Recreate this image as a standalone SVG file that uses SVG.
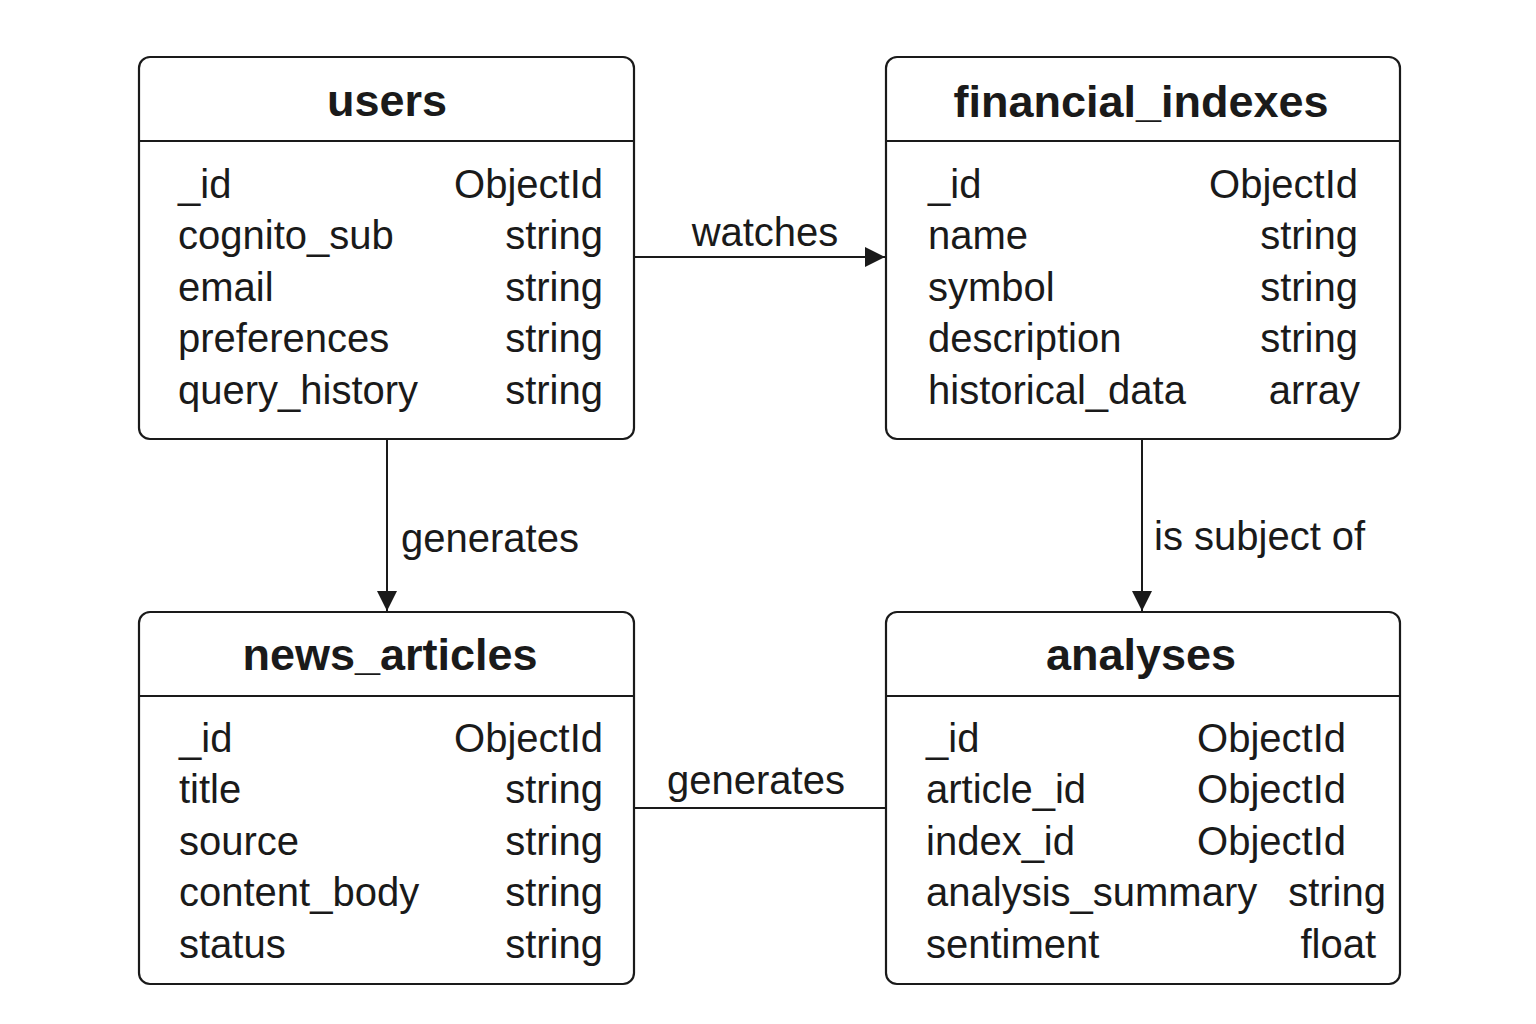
<svg xmlns="http://www.w3.org/2000/svg" width="1536" height="1024" viewBox="0 0 1536 1024">
<style>
.box{fill:#fff;stroke:#1a1a1a;stroke-width:2.2}
.sep{stroke:#1a1a1a;stroke-width:2}
.title{font-family:"Liberation Sans",Arial,sans-serif;font-weight:bold;font-size:45px;fill:#1a1a1a;text-anchor:middle}
.f{font-family:"Liberation Sans",Arial,sans-serif;font-size:40px;fill:#1a1a1a}
.t{font-family:"Liberation Sans",Arial,sans-serif;font-size:40px;fill:#1a1a1a;text-anchor:end}
.lbl{font-family:"Liberation Sans",Arial,sans-serif;font-size:40px;fill:#1a1a1a}
.conn{stroke:#1a1a1a;stroke-width:2;fill:none}
</style>
<defs>
<marker id="arr" viewBox="0 0 20 20" refX="20" refY="10" markerWidth="20" markerHeight="20" markerUnits="userSpaceOnUse" orient="auto">
<path d="M0,0 L20,10 L0,20 Z" fill="#1a1a1a"/>
</marker>
</defs>
<rect width="1536" height="1024" fill="#fff"/>

<g id="connectors">
<line class="conn" x1="634" y1="257" x2="885" y2="257" marker-end="url(#arr)"/>
<text class="lbl" x="765" y="246" text-anchor="middle">watches</text>
<line class="conn" x1="387" y1="440" x2="387" y2="611" marker-end="url(#arr)"/>
<text class="lbl" x="401" y="552">generates</text>
<line class="conn" x1="1142" y1="440" x2="1142" y2="611" marker-end="url(#arr)"/>
<text class="lbl" x="1154" y="550">is subject of</text>
<line class="conn" x1="634" y1="808" x2="886" y2="808"/>
<text class="lbl" x="756" y="794" text-anchor="middle">generates</text>
</g>

<g id="users">
<rect class="box" x="139" y="57" width="495" height="382" rx="11"/>
<line class="sep" x1="139" y1="141" x2="634" y2="141"/>
<text class="title" x="387" y="116">users</text>
<text class="f" x="178" y="198">_id</text><text class="t" x="603" y="198">ObjectId</text>
<text class="f" x="178" y="249">cognito_sub</text><text class="t" x="603" y="249">string</text>
<text class="f" x="178" y="301">email</text><text class="t" x="603" y="301">string</text>
<text class="f" x="178" y="352">preferences</text><text class="t" x="603" y="352">string</text>
<text class="f" x="178" y="404">query_history</text><text class="t" x="603" y="404">string</text>
</g>

<g id="financial_indexes">
<rect class="box" x="886" y="57" width="514" height="382" rx="11"/>
<line class="sep" x1="886" y1="141" x2="1400" y2="141"/>
<text class="title" x="1141" y="117">financial_indexes</text>
<text class="f" x="928" y="198">_id</text><text class="t" x="1358" y="198">ObjectId</text>
<text class="f" x="928" y="249">name</text><text class="t" x="1358" y="249">string</text>
<text class="f" x="928" y="301">symbol</text><text class="t" x="1358" y="301">string</text>
<text class="f" x="928" y="352">description</text><text class="t" x="1358" y="352">string</text>
<text class="f" x="928" y="404">historical_data</text><text class="t" x="1360" y="404">array</text>
</g>

<g id="news_articles">
<rect class="box" x="139" y="612" width="495" height="372" rx="11"/>
<line class="sep" x1="139" y1="696" x2="634" y2="696"/>
<text class="title" x="390" y="670">news_articles</text>
<text class="f" x="179" y="752">_id</text><text class="t" x="603" y="752">ObjectId</text>
<text class="f" x="179" y="803">title</text><text class="t" x="603" y="803">string</text>
<text class="f" x="179" y="855">source</text><text class="t" x="603" y="855">string</text>
<text class="f" x="179" y="906">content_body</text><text class="t" x="603" y="906">string</text>
<text class="f" x="179" y="958">status</text><text class="t" x="603" y="958">string</text>
</g>

<g id="analyses">
<rect class="box" x="886" y="612" width="514" height="372" rx="11"/>
<line class="sep" x1="886" y1="696" x2="1400" y2="696"/>
<text class="title" x="1141" y="670">analyses</text>
<text class="f" x="926" y="752">_id</text><text class="t" x="1346" y="752">ObjectId</text>
<text class="f" x="926" y="803">article_id</text><text class="t" x="1346" y="803">ObjectId</text>
<text class="f" x="926" y="855">index_id</text><text class="t" x="1346" y="855">ObjectId</text>
<text class="f" x="926" y="906">analysis_summary</text><text class="t" x="1386" y="906">string</text>
<text class="f" x="926" y="958">sentiment</text><text class="t" x="1376" y="958">float</text>
</g>
</svg>
